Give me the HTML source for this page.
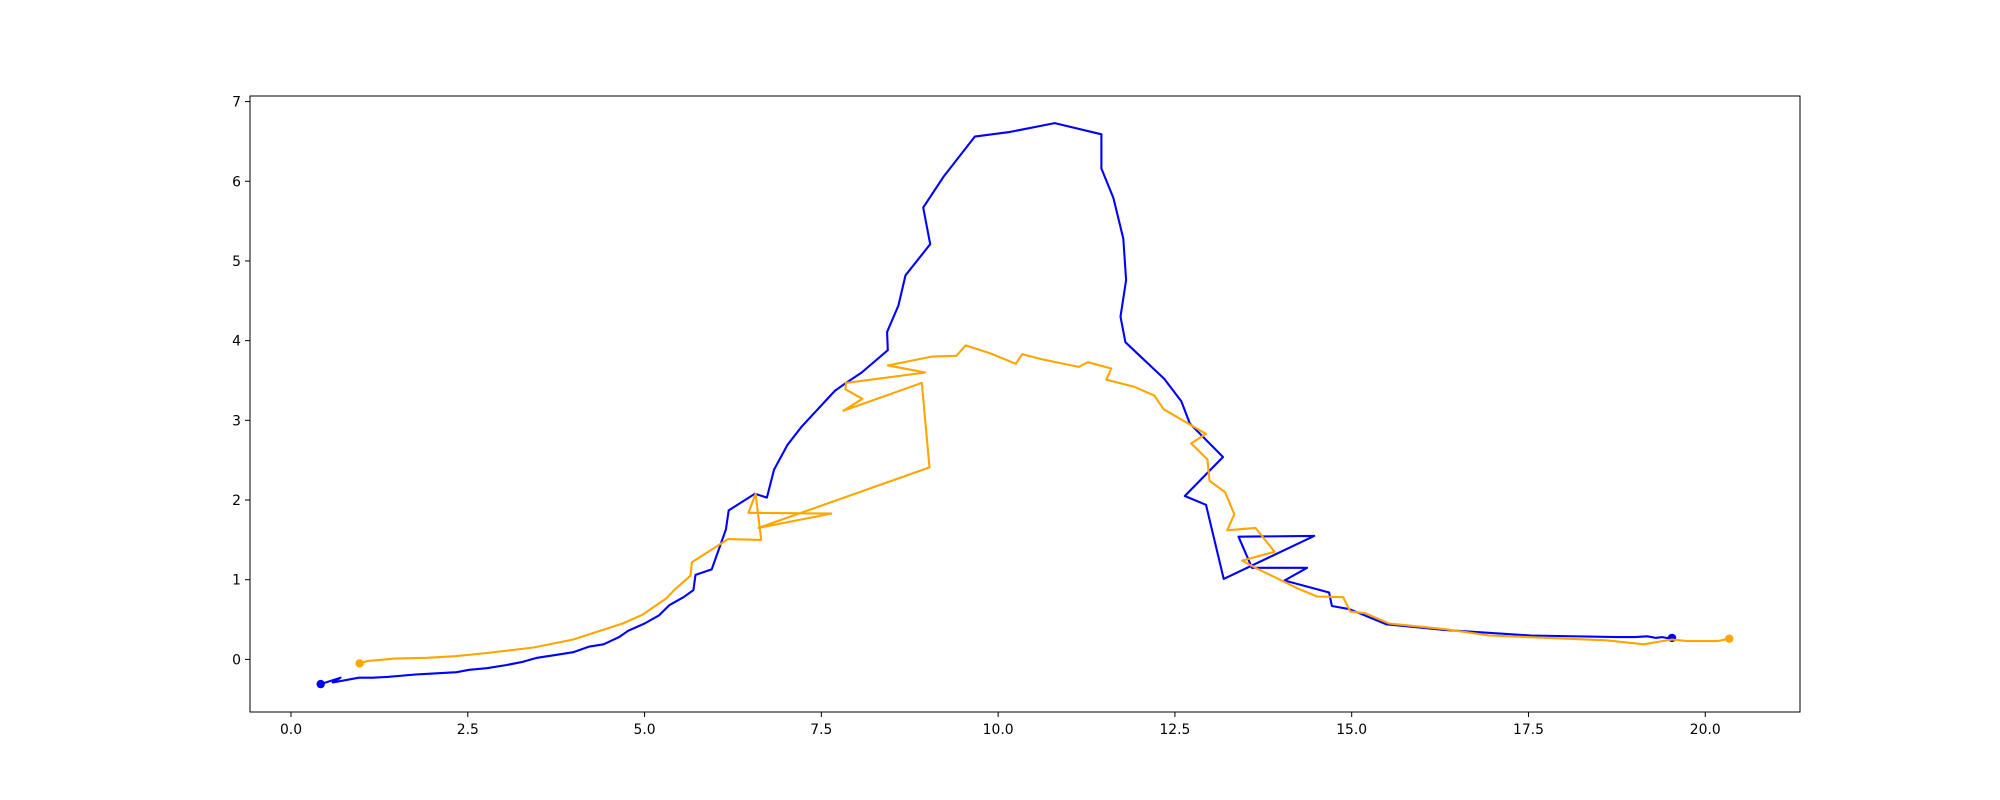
<!DOCTYPE html>
<html><head><meta charset="utf-8"><style>
html,body{margin:0;padding:0;background:#fff;}
svg{display:block;font-family:"DejaVu Sans","Liberation Sans",sans-serif;}
</style></head><body>
<svg id="chart" width="2000" height="800" viewBox="0 0 2000 800"></svg>
<script>
const blueX=[0.42,0.70,0.59,0.96,1.16,1.36,1.76,1.97,2.34,2.52,2.77,3.05,3.28,3.48,3.78,3.99,4.21,4.42,4.64,4.77,5.00,5.20,5.35,5.55,5.69,5.72,5.95,6.15,6.19,6.56,6.73,6.83,7.02,7.22,7.69,7.85,8.07,8.44,8.43,8.59,8.69,9.04,8.94,9.23,9.67,10.17,10.80,11.46,11.46,11.63,11.77,11.81,11.73,11.80,12.35,12.59,12.71,13.18,12.64,12.94,13.19,14.47,13.40,13.59,14.37,14.05,14.68,14.72,14.97,15.49,16.31,17.53,18.75,19.0,19.18,19.3,19.39,19.45,19.53];
const blueY=[-0.31,-0.23,-0.29,-0.23,-0.23,-0.22,-0.19,-0.18,-0.16,-0.13,-0.11,-0.07,-0.03,0.02,0.06,0.09,0.16,0.19,0.28,0.36,0.45,0.55,0.68,0.78,0.87,1.06,1.13,1.63,1.87,2.08,2.03,2.38,2.69,2.92,3.37,3.47,3.60,3.88,4.11,4.44,4.82,5.21,5.67,6.06,6.56,6.62,6.73,6.59,6.16,5.79,5.28,4.76,4.30,3.98,3.52,3.24,2.96,2.54,2.05,1.94,1.01,1.55,1.54,1.15,1.15,0.99,0.84,0.67,0.63,0.44,0.37,0.30,0.28,0.28,0.29,0.27,0.28,0.27,0.27];
const orangeX=[0.97,1.08,1.46,1.92,2.32,2.77,3.43,3.99,4.69,4.97,5.30,5.43,5.65,5.67,6.18,6.65,6.57,6.47,7.64,6.61,9.03,8.92,7.81,8.08,7.84,7.85,8.97,8.44,9.06,9.41,9.54,9.89,10.25,10.34,10.60,11.14,11.27,11.60,11.53,11.93,12.21,12.34,12.94,12.73,12.96,12.99,13.21,13.34,13.24,13.64,13.91,13.45,13.64,14.24,14.51,14.88,14.98,15.19,15.53,16.31,16.95,17.78,18.6,19.13,19.53,19.74,20.17,20.34];
const orangeY=[-0.05,-0.02,0.01,0.02,0.04,0.08,0.15,0.25,0.45,0.56,0.76,0.88,1.05,1.22,1.51,1.50,2.08,1.84,1.83,1.65,2.41,3.47,3.12,3.27,3.39,3.47,3.60,3.69,3.80,3.81,3.94,3.84,3.71,3.83,3.77,3.67,3.73,3.65,3.51,3.42,3.31,3.14,2.83,2.71,2.51,2.24,2.10,1.82,1.62,1.65,1.35,1.24,1.15,0.89,0.79,0.78,0.60,0.58,0.45,0.38,0.30,0.27,0.24,0.19,0.25,0.23,0.23,0.26];
const xTicks=[0,2.5,5,7.5,10,12.5,15,17.5,20];
const xTickLabels=["0.0","2.5","5.0","7.5","10.0","12.5","15.0","17.5","20.0"];
const yTicks=[0,1,2,3,4,5,6,7];
const yTickLabels=["0","1","2","3","4","5","6","7"];

const L=250,R=1800,T=96,B=712;
const xmin=-0.58,xmax=21.34,ymin=-0.66,ymax=7.07;
const sx=v=>L+(v-xmin)/(xmax-xmin)*(R-L);
const sy=v=>B-(v-ymin)/(ymax-ymin)*(B-T);
const NS="http://www.w3.org/2000/svg";
const svg=document.getElementById('chart');
function mk(tag,attrs){const e=document.createElementNS(NS,tag);for(const k in attrs)e.setAttribute(k,attrs[k]);return e;}

function series(xs,ys,color,name){
  const g=mk('g',{});
  
  
  const pts=xs.map((x,i)=>sx(x).toFixed(1)+','+sy(ys[i]).toFixed(1)).join(' ');
  const pl=mk('polyline',{points:pts,fill:'none',stroke:color,'stroke-width':2.1,'stroke-linejoin':'round','stroke-linecap':'square'});
  
  
  g.appendChild(pl);
  [0,xs.length-1].forEach((i,j)=>{
    const c=mk('circle',{cx:sx(xs[i]),cy:sy(ys[i]),r:4.2,fill:color});
    
    
    g.appendChild(c);
  });
  svg.appendChild(g);
}
series(blueX,blueY,'#0000ff','blue');
series(orangeX,orangeY,'#ffa500','orange');

const frame=mk('rect',{x:L,y:T,width:R-L,height:B-T,fill:'none',stroke:'#000','stroke-width':1});


svg.appendChild(frame);

xTicks.forEach((v,i)=>{
  const x=sx(v);
  const t=mk('line',{x1:x,x2:x,y1:B,y2:B+5,stroke:'#000','stroke-width':1});
  
  
  svg.appendChild(t);
  const lb=mk('text',{x:x,y:B+22,'text-anchor':'middle','font-size':13.9,fill:'#000'});
  lb.textContent=xTickLabels[i];
  
  
  svg.appendChild(lb);
});
yTicks.forEach((v,i)=>{
  const y=sy(v);
  const t=mk('line',{x1:L-5,x2:L,y1:y,y2:y,stroke:'#000','stroke-width':1});
  
  
  svg.appendChild(t);
  const lb=mk('text',{x:L-9,y:y+5,'text-anchor':'end','font-size':13.9,fill:'#000'});
  lb.textContent=yTickLabels[i];
  
  
  svg.appendChild(lb);
});
</script>
</body></html>
